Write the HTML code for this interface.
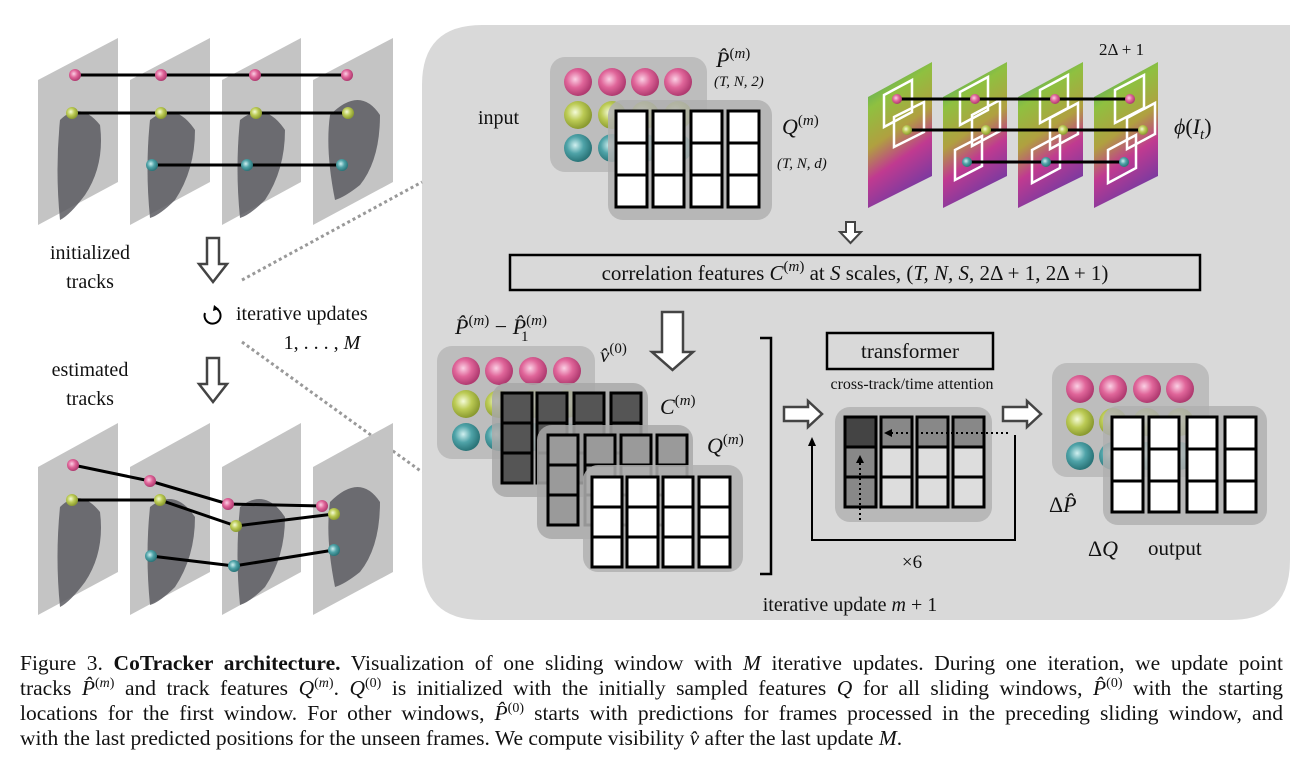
<!DOCTYPE html>
<html><head><meta charset="utf-8"><style>
body{margin:0;background:#fff;width:1302px;height:771px;overflow:hidden;position:relative;font-family:"Liberation Serif",serif}
.cap{position:absolute;left:20px;top:651px;width:1263px;font-size:21.5px;line-height:25px;color:#111}
.cap div{text-align:justify;text-align-last:justify;white-space:nowrap}
.cap div.last{text-align-last:left}
.cap i{font-style:italic}
.cap sup{font-size:14px;line-height:0}
svg text{font-family:"Liberation Serif",serif;fill:#111}
</style></head><body>
<svg width="1302" height="771" style="position:absolute;left:0;top:0">
<defs>
<radialGradient id="gp" cx="40%" cy="40%" r="60%"><stop offset="0" stop-color="#fbd0e4"/><stop offset="0.5" stop-color="#e0669a"/><stop offset="1" stop-color="#b03a70"/></radialGradient>
<radialGradient id="gg" cx="40%" cy="40%" r="60%"><stop offset="0" stop-color="#f4fbd8"/><stop offset="0.5" stop-color="#bccb55"/><stop offset="1" stop-color="#8a9a30"/></radialGradient>
<radialGradient id="gt" cx="40%" cy="40%" r="60%"><stop offset="0" stop-color="#d0f0f0"/><stop offset="0.5" stop-color="#4fa3a8"/><stop offset="1" stop-color="#2a7478"/></radialGradient>
<linearGradient id="fm" x1="0" y1="0" x2="0.3" y2="1"><stop offset="0" stop-color="#2a9a7a"/><stop offset="0.3" stop-color="#8fc040"/><stop offset="0.55" stop-color="#b0a040"/><stop offset="0.75" stop-color="#c03a90"/><stop offset="1" stop-color="#7a3aa0"/></linearGradient>
</defs>
<path d="M482,25 H1290 V560 Q1290,620 1230,620 H482 Q422,620 422,560 V85 Q422,25 482,25 Z" fill="#d9d9d9"/>
<line x1="242" y1="280" x2="422" y2="182" stroke="#999" stroke-width="3" stroke-dasharray="3,3"/>
<line x1="242" y1="342" x2="422" y2="472" stroke="#999" stroke-width="3" stroke-dasharray="3,3"/>
<g fill="#c4c4c4">
<polygon points="38,80 118,38 118,182 38,225"/><polygon points="130,80 210,38 210,182 130,225"/>
<polygon points="222,80 301,38 301,182 222,225"/><polygon points="313,80 393,38 393,182 313,225"/>
</g>
<g fill="#5c5c62" opacity="0.85">
<path d="M60,120 q20,-20 40,5 q5,40 -15,70 q-15,20 -25,25 q-5,-50 0,-100z"/>
<path d="M150,120 q25,-20 45,10 q0,40 -20,70 q-15,15 -25,18 q-5,-50 0,-98z"/>
<path d="M240,120 q25,-20 45,10 q0,40 -20,70 q-15,15 -25,18 q-5,-50 0,-98z"/>
<path d="M330,115 q30,-30 50,0 q0,45 -20,70 q-15,12 -25,15 q-10,-50 -5,-85z"/>
</g>
<g stroke="#000" stroke-width="3">
<line x1="75" y1="75" x2="347" y2="75"/><line x1="72" y1="113" x2="348" y2="113"/><line x1="152" y1="165" x2="342" y2="165"/>
</g>
<g><circle cx="75" cy="75" r="6" fill="url(#gp)"/><circle cx="161" cy="75" r="6" fill="url(#gp)"/><circle cx="255" cy="75" r="6" fill="url(#gp)"/><circle cx="347" cy="75" r="6" fill="url(#gp)"/>
<circle cx="72" cy="113" r="6" fill="url(#gg)"/><circle cx="161" cy="113" r="6" fill="url(#gg)"/><circle cx="256" cy="113" r="6" fill="url(#gg)"/><circle cx="348" cy="113" r="6" fill="url(#gg)"/>
<circle cx="152" cy="165" r="6" fill="url(#gt)"/><circle cx="247" cy="165" r="6" fill="url(#gt)"/><circle cx="342" cy="165" r="6" fill="url(#gt)"/></g>
<g fill="#c4c4c4">
<polygon points="38,467 118,423 118,572 38,615"/><polygon points="130,467 210,423 210,572 130,615"/>
<polygon points="222,467 301,423 301,572 222,615"/><polygon points="313,467 393,423 393,572 313,615"/>
</g>
<g fill="#5c5c62" opacity="0.85">
<path d="M60,507 q20,-20 40,5 q5,40 -15,70 q-15,20 -25,25 q-5,-50 0,-100z"/>
<path d="M150,507 q25,-20 45,10 q0,40 -20,70 q-15,15 -25,18 q-5,-50 0,-98z"/>
<path d="M240,507 q25,-20 45,10 q0,40 -20,70 q-15,15 -25,18 q-5,-50 0,-98z"/>
<path d="M330,502 q30,-30 50,0 q0,45 -20,70 q-15,12 -25,15 q-10,-50 -5,-85z"/>
</g>
<g stroke="#000" stroke-width="3" fill="none">
<polyline points="73,465 150,481 228,504 322,506"/><polyline points="72,500 160,500 236,526 334,514"/><polyline points="151,556 234,566 334,550"/>
</g>
<g><circle cx="73" cy="465" r="6" fill="url(#gp)"/><circle cx="150" cy="481" r="6" fill="url(#gp)"/><circle cx="228" cy="504" r="6" fill="url(#gp)"/><circle cx="322" cy="506" r="6" fill="url(#gp)"/>
<circle cx="72" cy="500" r="6" fill="url(#gg)"/><circle cx="160" cy="500" r="6" fill="url(#gg)"/><circle cx="236" cy="526" r="6" fill="url(#gg)"/><circle cx="334" cy="514" r="6" fill="url(#gg)"/>
<circle cx="151" cy="556" r="6" fill="url(#gt)"/><circle cx="234" cy="566" r="6" fill="url(#gt)"/><circle cx="334" cy="550" r="6" fill="url(#gt)"/></g>
<g font-size="20">
<text x="90" y="259" text-anchor="middle">initialized</text><text x="90" y="288" text-anchor="middle">tracks</text>
<text x="90" y="376" text-anchor="middle">estimated</text><text x="90" y="405" text-anchor="middle">tracks</text>
<text x="236" y="320">iterative updates</text><text x="322" y="349" text-anchor="middle">1, . . . , <tspan font-style="italic">M</tspan></text>
</g>
<g fill="#fff" stroke="#444" stroke-width="2.5">
<path d="M207,238 h12 v26 h8 l-14,18 l-14,-18 h8 z"/>
<path d="M207,358 h12 v26 h8 l-14,18 l-14,-18 h8 z"/>
</g>
<path d="M205,313 a8,8 0 1 0 12,-4" fill="none" stroke="#000" stroke-width="2"/><path d="M214,305 l5,4 l-6,2z" fill="#000"/>
<text x="478" y="124" font-size="20">input</text>
<rect x="550" y="57" width="157" height="115" rx="15" fill="#bdbdbd"/>
<g>
<circle cx="578" cy="82" r="14" fill="url(#gp)"/><circle cx="612" cy="82" r="14" fill="url(#gp)"/><circle cx="645" cy="82" r="14" fill="url(#gp)"/><circle cx="678" cy="82" r="14" fill="url(#gp)"/>
<circle cx="578" cy="115" r="14" fill="url(#gg)"/><circle cx="612" cy="115" r="14" fill="url(#gg)"/><circle cx="645" cy="115" r="14" fill="url(#gg)"/><circle cx="678" cy="115" r="14" fill="url(#gg)"/>
<circle cx="578" cy="148" r="14" fill="url(#gt)"/><circle cx="612" cy="148" r="14" fill="url(#gt)"/><circle cx="645" cy="148" r="14" fill="url(#gt)"/><circle cx="678" cy="148" r="14" fill="url(#gt)"/>
</g>
<rect x="608" y="100" width="164" height="120" rx="15" fill="#b0b0b0" opacity="0.85"/>
<g fill="#fff" stroke="#000" stroke-width="3">
<rect x="616" y="111" width="31" height="32"/><rect x="616" y="143" width="31" height="32"/><rect x="616" y="175" width="31" height="32"/>
<rect x="653" y="111" width="31" height="32"/><rect x="653" y="143" width="31" height="32"/><rect x="653" y="175" width="31" height="32"/>
<rect x="691" y="111" width="31" height="32"/><rect x="691" y="143" width="31" height="32"/><rect x="691" y="175" width="31" height="32"/>
<rect x="728" y="111" width="31" height="32"/><rect x="728" y="143" width="31" height="32"/><rect x="728" y="175" width="31" height="32"/>
</g>
<text x="716" y="67" font-size="22" font-style="italic">P̂<tspan font-size="15" dy="-9" font-style="normal">(<tspan font-style="italic">m</tspan>)</tspan></text>
<text x="714" y="86" font-size="15" font-style="italic">(T, N, 2)</text>
<text x="782" y="134" font-size="22" font-style="italic">Q<tspan font-size="15" dy="-9" font-style="normal">(<tspan font-style="italic">m</tspan>)</tspan></text>
<text x="777" y="168" font-size="15" font-style="italic">(T, N, d)</text>
<g fill="url(#fm)">
<polygon points="868,97 932,62 932,176 868,208"/><polygon points="943,97 1007,62 1007,176 943,208"/>
<polygon points="1018,97 1083,62 1083,176 1018,208"/><polygon points="1094,97 1158,62 1158,176 1094,208"/>
</g>
<g fill="none" stroke="#fff" stroke-width="2.5">
<polygon points="884,95 912,80 912,112 884,127"/><polygon points="894,117 924,102 924,132 894,147"/>
<polygon points="960,92 988,77 988,110 960,125"/><polygon points="972,115 1000,100 1000,131 972,146"/><polygon points="955,150 982,136 982,166 955,180"/>
<polygon points="1040,90 1068,75 1068,108 1040,123"/><polygon points="1050,118 1078,103 1078,134 1050,149"/><polygon points="1032,150 1060,135 1060,168 1032,183"/>
<polygon points="1115,90 1144,75 1144,108 1115,123"/><polygon points="1127,118 1155,103 1155,134 1127,149"/><polygon points="1108,150 1136,135 1136,168 1108,183"/>
</g>
<g stroke="#000" stroke-width="3">
<line x1="897" y1="99" x2="1130" y2="99"/><line x1="907" y1="130" x2="1143" y2="130"/><line x1="967" y1="162" x2="1124" y2="162"/>
</g>
<g><circle cx="897" cy="99" r="5" fill="url(#gp)"/><circle cx="975" cy="99" r="5" fill="url(#gp)"/><circle cx="1055" cy="99" r="5" fill="url(#gp)"/><circle cx="1130" cy="99" r="5" fill="url(#gp)"/>
<circle cx="907" cy="130" r="5" fill="url(#gg)"/><circle cx="986" cy="130" r="5" fill="url(#gg)"/><circle cx="1063" cy="130" r="5" fill="url(#gg)"/><circle cx="1143" cy="130" r="5" fill="url(#gg)"/>
<circle cx="967" cy="162" r="5" fill="url(#gt)"/><circle cx="1046" cy="162" r="5" fill="url(#gt)"/><circle cx="1124" cy="162" r="5" fill="url(#gt)"/></g>
<text x="1099" y="55" font-size="17">2Δ + 1</text>
<text x="1174" y="134" font-size="22" font-style="italic">ϕ<tspan font-style="normal">(</tspan>I<tspan font-size="15" dy="5">t</tspan><tspan font-style="normal" dy="-5">)</tspan></text>
<path d="M846,222 h9 v10 h6 l-10.5,11 l-10.5,-11 h6 z" fill="#fff" stroke="#444" stroke-width="2"/>
<rect x="510" y="255" width="690" height="35" fill="none" stroke="#000" stroke-width="2.5"/>
<text x="855" y="280" font-size="21" text-anchor="middle">correlation features <tspan font-style="italic">C</tspan><tspan font-size="15" dy="-9">(<tspan font-style="italic">m</tspan>)</tspan><tspan dy="9"> at </tspan><tspan font-style="italic">S</tspan> scales, (<tspan font-style="italic">T, N, S</tspan>, 2Δ + 1, 2Δ + 1)</text>
<path d="M662,312 h21 v40 h10 l-20.5,18 l-20.5,-18 h10 z" fill="#fff" stroke="#444" stroke-width="2.5"/>
<text x="455" y="334" font-size="22" font-style="italic">P̂<tspan font-size="15" dy="-9" font-style="normal">(<tspan font-style="italic">m</tspan>)</tspan><tspan dy="9" font-style="normal"> − </tspan>P̂<tspan font-size="15" dy="-9" font-style="normal">(<tspan font-style="italic">m</tspan>)</tspan><tspan font-size="15" dx="-26" dy="16" font-style="normal">1</tspan></text>
<rect x="437" y="346" width="158" height="113" rx="15" fill="#bdbdbd"/>
<g>
<circle cx="466" cy="371" r="14" fill="url(#gp)"/><circle cx="499" cy="371" r="14" fill="url(#gp)"/><circle cx="533" cy="371" r="14" fill="url(#gp)"/><circle cx="567" cy="371" r="14" fill="url(#gp)"/>
<circle cx="466" cy="404" r="14" fill="url(#gg)"/><circle cx="499" cy="404" r="14" fill="url(#gg)"/><circle cx="533" cy="404" r="14" fill="url(#gg)"/><circle cx="567" cy="404" r="14" fill="url(#gg)"/>
<circle cx="466" cy="437" r="14" fill="url(#gt)"/><circle cx="499" cy="437" r="14" fill="url(#gt)"/><circle cx="533" cy="437" r="14" fill="url(#gt)"/><circle cx="567" cy="437" r="14" fill="url(#gt)"/>
</g>
<text x="600" y="362" font-size="21" font-style="italic">v̂<tspan font-size="15" dy="-9" font-style="normal">(0)</tspan></text>
<rect x="492" y="383" width="156" height="114" rx="15" fill="#a8a8a8" opacity="0.85"/>
<g fill="#555" stroke="#000" stroke-width="3">
<rect x="502" y="393" width="30" height="30"/><rect x="502" y="423" width="30" height="30"/><rect x="502" y="453" width="30" height="30"/>
<rect x="537" y="393" width="30" height="30"/><rect x="537" y="423" width="30" height="30"/><rect x="537" y="453" width="30" height="30"/>
<rect x="574" y="393" width="30" height="30"/><rect x="574" y="423" width="30" height="30"/><rect x="574" y="453" width="30" height="30"/>
<rect x="611" y="393" width="30" height="30"/><rect x="611" y="423" width="30" height="30"/><rect x="611" y="453" width="30" height="30"/>
</g>
<text x="660" y="414" font-size="22" font-style="italic">C<tspan font-size="15" dy="-9" font-style="normal">(<tspan font-style="italic">m</tspan>)</tspan></text>
<rect x="537" y="425" width="156" height="114" rx="15" fill="#a8a8a8" opacity="0.85"/>
<g fill="#9a9a9a" stroke="#000" stroke-width="3">
<rect x="548" y="435" width="30" height="30"/><rect x="548" y="465" width="30" height="30"/><rect x="548" y="495" width="30" height="30"/>
<rect x="585" y="435" width="30" height="30"/><rect x="585" y="465" width="30" height="30"/><rect x="585" y="495" width="30" height="30"/>
<rect x="621" y="435" width="30" height="30"/><rect x="621" y="465" width="30" height="30"/><rect x="621" y="495" width="30" height="30"/>
<rect x="657" y="435" width="30" height="30"/><rect x="657" y="465" width="30" height="30"/><rect x="657" y="495" width="30" height="30"/>
</g>
<text x="707" y="453" font-size="22" font-style="italic">Q<tspan font-size="15" dy="-9" font-style="normal">(<tspan font-style="italic">m</tspan>)</tspan></text>
<rect x="583" y="465" width="160" height="107" rx="15" fill="#b0b0b0" opacity="0.85"/>
<g fill="#fff" stroke="#000" stroke-width="3">
<rect x="592" y="477" width="30" height="30"/><rect x="592" y="507" width="30" height="30"/><rect x="592" y="537" width="30" height="30"/>
<rect x="627" y="477" width="31" height="30"/><rect x="627" y="507" width="31" height="30"/><rect x="627" y="537" width="31" height="30"/>
<rect x="663" y="477" width="30" height="30"/><rect x="663" y="507" width="30" height="30"/><rect x="663" y="537" width="30" height="30"/>
<rect x="699" y="477" width="31" height="30"/><rect x="699" y="507" width="31" height="30"/><rect x="699" y="537" width="31" height="30"/>
</g>
<polyline points="760,338 771,338 771,574 760,574" fill="none" stroke="#000" stroke-width="2.5"/>
<text x="850" y="611" font-size="20" text-anchor="middle">iterative update <tspan font-style="italic">m</tspan> + 1</text>
<rect x="827" y="333" width="166" height="36" fill="none" stroke="#000" stroke-width="2.5"/>
<text x="910" y="358" font-size="21" text-anchor="middle">transformer</text>
<text x="912" y="389" font-size="16" text-anchor="middle">cross-track/time attention</text>
<path d="M784,407 h24 v-6 l14,13 l-14,13 v-6 h-24 z" fill="#fff" stroke="#444" stroke-width="2.5"/>
<path d="M1003,407 h24 v-6 l14,13 l-14,13 v-6 h-24 z" fill="#fff" stroke="#444" stroke-width="2.5"/>
<rect x="835" y="407" width="157" height="115" rx="15" fill="#b8b8b8"/>
<g stroke="#000" stroke-width="3">
<rect x="845" y="417" width="31" height="30" fill="#444"/><rect x="845" y="447" width="31" height="30" fill="#888"/><rect x="845" y="477" width="31" height="30" fill="#888"/>
<rect x="881" y="417" width="31" height="30" fill="#888"/><rect x="881" y="447" width="31" height="30" fill="#ddd"/><rect x="881" y="477" width="31" height="30" fill="#ddd"/>
<rect x="917" y="417" width="31" height="30" fill="#888"/><rect x="917" y="447" width="31" height="30" fill="#ddd"/><rect x="917" y="477" width="31" height="30" fill="#ddd"/>
<rect x="953" y="417" width="31" height="30" fill="#888"/><rect x="953" y="447" width="31" height="30" fill="#ddd"/><rect x="953" y="477" width="31" height="30" fill="#ddd"/>
</g>
<line x1="1008" y1="433" x2="891" y2="433" stroke="#000" stroke-width="2" stroke-dasharray="2,3"/><path d="M884,433 l8,-4 v8z"/>
<line x1="860" y1="520" x2="860" y2="462" stroke="#000" stroke-width="2" stroke-dasharray="2,3"/><path d="M860,455 l-4,8 h8z"/>
<polyline points="1015,435 1015,540 812,540 812,446" fill="none" stroke="#000" stroke-width="2"/><path d="M812,437 l-4,9 h8z"/>
<text x="912" y="568" font-size="19" text-anchor="middle">×6</text>
<rect x="1052" y="363" width="157" height="114" rx="15" fill="#bdbdbd"/>
<g>
<circle cx="1080" cy="389" r="14" fill="url(#gp)"/><circle cx="1113" cy="389" r="14" fill="url(#gp)"/><circle cx="1147" cy="389" r="14" fill="url(#gp)"/><circle cx="1180" cy="389" r="14" fill="url(#gp)"/>
<circle cx="1080" cy="422" r="14" fill="url(#gg)"/><circle cx="1113" cy="422" r="14" fill="url(#gg)"/><circle cx="1147" cy="422" r="14" fill="url(#gg)"/><circle cx="1180" cy="422" r="14" fill="url(#gg)"/>
<circle cx="1080" cy="456" r="14" fill="url(#gt)"/><circle cx="1113" cy="456" r="14" fill="url(#gt)"/><circle cx="1147" cy="456" r="14" fill="url(#gt)"/><circle cx="1180" cy="456" r="14" fill="url(#gt)"/>
</g>
<rect x="1103" y="406" width="164" height="119" rx="15" fill="#b0b0b0" opacity="0.85"/>
<g fill="#fff" stroke="#000" stroke-width="3">
<rect x="1112" y="417" width="31" height="32"/><rect x="1112" y="449" width="31" height="32"/><rect x="1112" y="481" width="31" height="31"/>
<rect x="1149" y="417" width="30" height="32"/><rect x="1149" y="449" width="30" height="32"/><rect x="1149" y="481" width="30" height="31"/>
<rect x="1187" y="417" width="30" height="32"/><rect x="1187" y="449" width="30" height="32"/><rect x="1187" y="481" width="30" height="31"/>
<rect x="1225" y="417" width="31" height="32"/><rect x="1225" y="449" width="31" height="32"/><rect x="1225" y="481" width="31" height="31"/>
</g>
<text x="1049" y="512" font-size="22">Δ<tspan font-style="italic">P̂</tspan></text>
<text x="1088" y="556" font-size="22">Δ<tspan font-style="italic">Q</tspan></text>
<text x="1148" y="555" font-size="21">output</text>
</svg>
<div class="cap">
<div>Figure 3. <b>CoTracker architecture.</b> Visualization of one sliding window with <i>M</i> iterative updates. During one iteration, we update point</div>
<div>tracks <i>P̂</i><sup>(<i>m</i>)</sup> and track features <i>Q</i><sup>(<i>m</i>)</sup>. <i>Q</i><sup>(0)</sup> is initialized with the initially sampled features <i>Q</i> for all sliding windows, <i>P̂</i><sup>(0)</sup> with the starting</div>
<div>locations for the first window. For other windows, <i>P̂</i><sup>(0)</sup> starts with predictions for frames processed in the preceding sliding window, and</div>
<div class="last">with the last predicted positions for the unseen frames. We compute visibility <i>v̂</i> after the last update <i>M</i>.</div>
</div>
</body></html>
